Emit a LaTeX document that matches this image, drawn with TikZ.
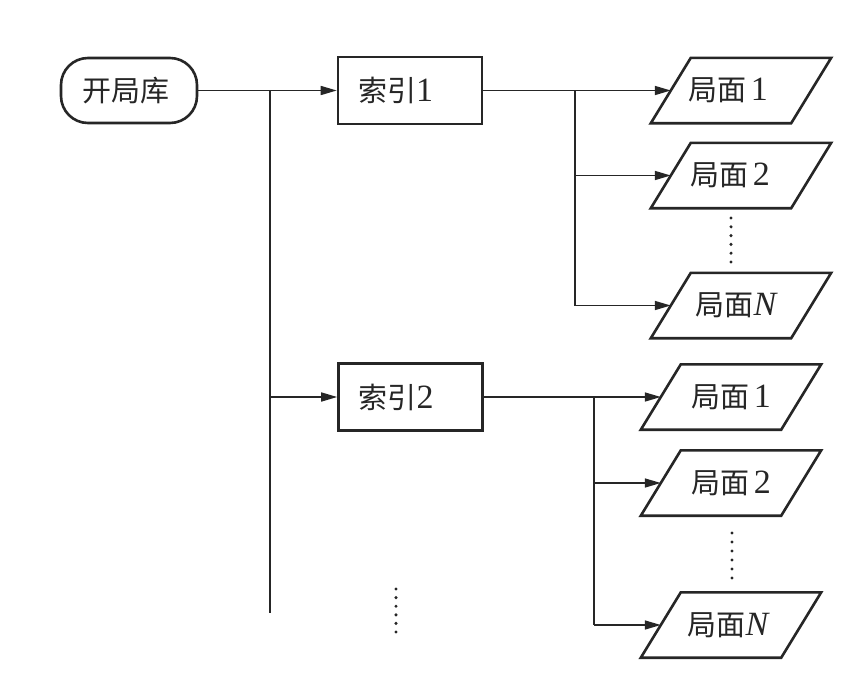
\documentclass[tikz,border=0pt]{standalone}
\usepackage{fontspec}
\setmainfont{Liberation Serif}
\newfontfamily\cjk{Noto Sans CJK SC}
\usetikzlibrary{arrows.meta}
\definecolor{ink}{HTML}{262626}
\newcommand\mydg[1]{{\rmfamily\fontsize{34}{34}\selectfont #1}}
\begin{document}
\begin{tikzpicture}[x=1pt,y=-1pt,
  every node/.style={font=\fontsize{29}{30}\selectfont, text=ink},
  box/.style={draw=ink, line width=2.6pt, minimum height=67pt, text width=104pt,
    inner xsep=20pt, inner ysep=0pt, align=left},
  startbox/.style={draw=ink, line width=2.6pt, rounded corners=27pt,
    minimum width=136pt, minimum height=65pt, inner sep=0pt},
  ptext/.style={minimum width=140pt, minimum height=65pt, inner sep=0pt},
  pshape/.style={draw=ink, line width=2.6pt, line join=miter},
  plain/.style={draw=ink, line width=1.6pt},
  conn/.style={plain, -{Triangle[length=16pt,width=9pt]}}]
\useasboundingbox (0,0) rectangle (867,683);
\fill[white] (0,0) rectangle (867,683);

% nodes
\node[startbox] (lib) at (129,90.5) {\cjk 开局库\kern6pt};
\node[box] (i1) at (410,90.5) {\cjk 索引\mydg{1}};
\node[box] (i2) at (410.5,397) {\cjk 索引\mydg{2}};

\node[ptext] (p11) at (741,90.5)  {\cjk 局面\,\mydg{1}\kern26pt};
\node[ptext] (p12) at (741,175.5) {\cjk 局面\,\mydg{2}\kern22pt};
\node[ptext] (p1n) at (741,305.5) {\cjk 局面\mydg{\itshape N}\kern10pt};
\node[ptext] (p21) at (731,397)   {\cjk 局面\,\mydg{1}};
\node[ptext] (p22) at (731,483)   {\cjk 局面\,\mydg{2}};
\node[ptext] (p2n) at (731,625)   {\cjk 局面\mydg{\itshape N}\kern6pt};

\foreach \n in {p11,p12,p1n,p21,p22,p2n}
  \draw[pshape] ([xshift=20pt]\n.north west) -- ([xshift=20pt]\n.north east)
    -- ([xshift=-20pt]\n.south east) -- ([xshift=-20pt]\n.south west) -- cycle;

% main trunk
\coordinate (j0) at (270,90.5);
\coordinate (j0e) at (270,613);
\draw[conn] (lib) -- (i1);
\draw[plain] (j0) -- (j0e);
\draw[conn] (j0 |- i2) -- (i2);

% upper branch
\coordinate (j1) at (575,90.5);
\draw[conn] (i1) -- (p11.west);
\draw[plain] (j1) -- (j1 |- p1n);
\draw[conn] (j1 |- p12) -- (p12.west);
\draw[conn] (j1 |- p1n) -- (p1n.west);

% lower branch
\coordinate (j2) at (594,397);
\draw[conn] (i2) -- (p21.west);
\draw[plain] (j2) -- (j2 |- p2n);
\draw[conn] (j2 |- p22) -- (p22.west);
\draw[conn] (j2 |- p2n) -- (p2n.west);

% ellipsis dots
\foreach \k in {0,...,5} {
  \fill[ink] (731,218+8.8*\k) circle (1.7pt);
  \fill[ink] (732,533+9*\k) circle (1.7pt);
  \fill[ink] (396,589+8.6*\k) circle (1.7pt);
}
\end{tikzpicture}
\end{document}
